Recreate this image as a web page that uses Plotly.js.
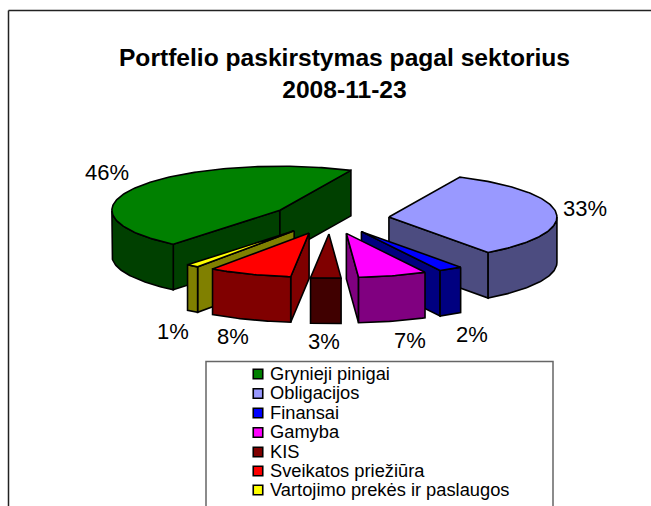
<!DOCTYPE html>
<html>
<head>
<meta charset="utf-8">
<script src="https://cdn.plot.ly/plotly-3.0.1.min.js"></script>
<style>html,body{margin:0;padding:0;background:#fff;overflow:hidden}</style>
</head>
<body>
<div id="chart" style="width:651px;height:506px"></div>
<script>
// Data (slice sizes estimated from the drawn angles; labels show them rounded)
const categories = ["Grynieji pinigai","Obligacijos","Finansai","Gamyba","KIS","Sveikatos priežiūra","Vartojimo prekės ir paslaugos"];
const shares = [46,33,2.3,6.6,2.9,8,1.2];
const topColors = ["#008000","#9999FF","#0000FF","#FF00FF","#800000","#FF0000","#FFFF00"];
const sideColors = ["#004000","#4C4C80","#000080","#800080","#400000","#800000","#808000"];
const titleText = "Portfelio paskirstymas pagal sektorius<br>2008-11-23";
const labelX = [107,585,472,410,324,233,173];
const labelY = [172,208,334,340,341,336,331];
const legendRowY = [374,393.5,413,432.5,452,471,490];
const drawOrder = [0,1,6,2,5,3,4]; // back to front

// Oblique-pie projection
const cx=330, cy=218.5, rx=168, ry=44, explodeX=59.2, explodeY=15.5, depth=45.5, firstAngle=219.4;
const rad = d => d*Math.PI/180;
const fontFamily = "Liberation Sans, Arial, sans-serif";
const lineStyle = {color:"#000",width:1.6};
const traces = [];
function face(xs,ys,color,i){
  traces.push({type:"scatter",mode:"lines",x:xs,y:ys,fill:"toself",fillcolor:color,line:lineStyle,showlegend:false,name:categories[i]});
}
const total = shares.reduce((a,b)=>a+b,0);
const starts=[]; let acc=firstAngle;
shares.forEach(v=>{starts.push(acc); acc+=v/total*360;});

drawOrder.forEach(i=>{
  const a0=starts[i], a1=a0+shares[i]/total*360, mid=(a0+a1)/2;
  const ax=cx+explodeX*Math.sin(rad(mid)), ay=cy-explodeY*Math.cos(rad(mid));
  const px=t=>ax+rx*Math.sin(rad(t)), py=t=>ay-ry*Math.cos(rad(t));
  const arc=[]; for(let t=a0;t<a1;t+=1) arc.push(t); arc.push(a1);
  // visible radial walls
  [a0,a1].forEach((t,k)=>{
    const s=Math.sin(rad(t));
    if((k===0&&s<0)||(k===1&&s>0)){
      face([ax,px(t),px(t),ax,ax],[ay,py(t),py(t)+depth,ay+depth,ay],sideColors[i],i);
    }
  });
  // visible part of the outer wall
  const front=arc.filter(t=>{const m=((t%360)+360)%360;return m>=90&&m<=270;});
  if(front.length>1){
    const xs=front.map(px), ys=front.map(py);
    face(xs.concat(xs.slice().reverse(),[xs[0]]),ys.concat(ys.slice().reverse().map(y=>y+depth),[ys[0]]),sideColors[i],i);
  }
  // top
  const xs=[ax].concat(arc.map(px),[ax]), ys=[ay].concat(arc.map(py),[ay]);
  face(xs,ys,topColors[i],i);
});

// legend, drawn in the box
traces.push({type:"scatter",mode:"markers",x:categories.map(()=>258),y:legendRowY,showlegend:false,
  marker:{symbol:"square",size:9.5,color:topColors,line:{color:"#000",width:1.6}}});
traces.push({type:"scatter",mode:"text",x:categories.map(()=>270),y:legendRowY.map(y=>y+1),text:categories,textposition:"middle right",showlegend:false,
  textfont:{family:fontFamily,size:18.3,color:"#000"}});

const annotations = shares.map((v,i)=>({x:labelX[i],y:labelY[i],xref:"x",yref:"y",text:Math.round(v)+"%",showarrow:false,
  font:{family:fontFamily,size:22,color:"#000"},xanchor:"center",yanchor:"middle"}));

const layout = {
  width:651,height:506,margin:{l:0,r:0,t:0,b:0,autoexpand:false},
  paper_bgcolor:"#fff",plot_bgcolor:"#fff",
  title:{text:titleText,x:344.5/651,xanchor:"center",y:1-66/506,yanchor:"top",
    font:{family:fontFamily,size:24.6,color:"#000",weight:700}},
  xaxis:{range:[0,651],visible:false,fixedrange:true},
  yaxis:{range:[506,0],visible:false,fixedrange:true},
  showlegend:false,
  annotations:annotations,
  shapes:[
    {type:"line",xref:"x",yref:"y",x0:8.5,x1:8.5,y0:10.5,y1:506,line:{color:"#222",width:1.5}},
    {type:"line",xref:"x",yref:"y",x0:8.5,x1:651,y0:10.5,y1:10.5,line:{color:"#222",width:1.5}},
    {type:"rect",xref:"x",yref:"y",x0:206,x1:553,y0:361.5,y1:520,line:{color:"#666",width:1.5},fillcolor:"#fff",layer:"below"}
  ]
};
Plotly.newPlot("chart",traces,layout,{displayModeBar:false,staticPlot:true});
</script>
</body>
</html>
